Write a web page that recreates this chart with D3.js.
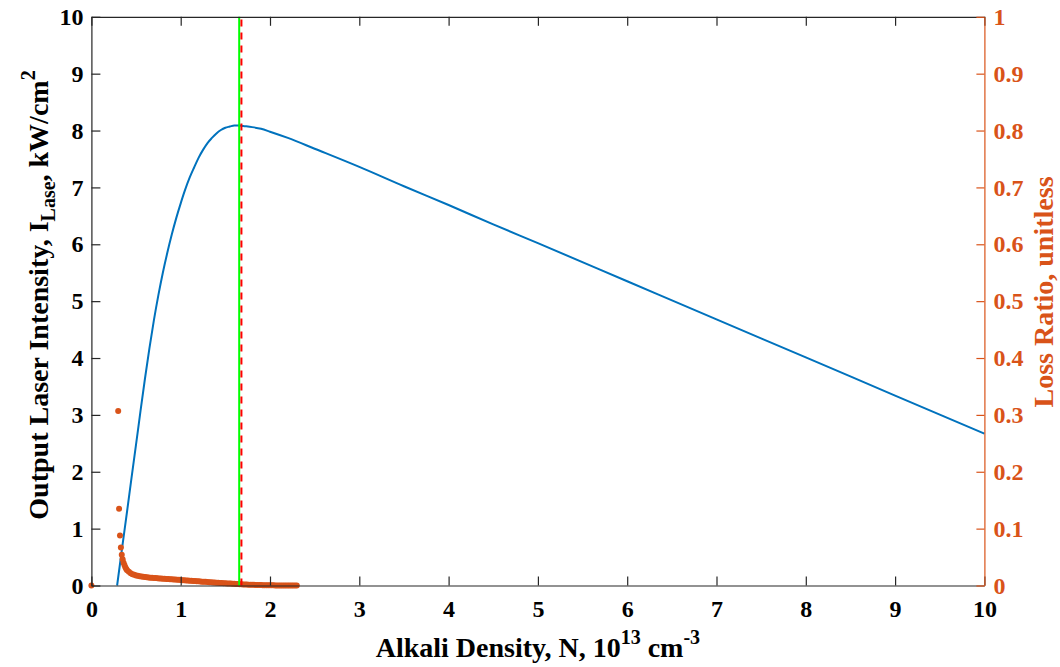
<!DOCTYPE html>
<html><head><meta charset="utf-8">
<script src="https://cdn.jsdelivr.net/npm/d3@7"></script>
<style>body{margin:0;background:#fff}svg{display:block}</style>
</head><body><svg id="c" width="1060" height="667"></svg>
<script>
// ---- data ----
const intensityX = [0.288,0.35,0.40,0.45,0.50,0.55,0.60,0.65,0.70,0.75,0.80,0.85,0.90,0.95,1.00,1.05,1.10,1.15,1.20,1.25,1.30,1.35,1.40,1.45,1.50,1.55,1.60,1.65,1.70,1.80,1.90,2.00,2.20,2.50,3.00,3.50,4.00,4.50,5.00,6.00,7.00,8.00,9.00,10.00];
const intensityY = [0,0.73,1.31,1.90,2.48,3.07,3.64,4.175,4.665,5.105,5.50,5.85,6.17,6.46,6.72,6.96,7.17,7.35,7.52,7.66,7.78,7.87,7.95,8.01,8.05,8.07,8.09,8.09,8.08,8.06,8.03,7.98,7.87,7.68,7.36,7.02,6.69,6.35,6.02,5.35,4.68,4.01,3.34,2.67];
const lossX = [0,0.30,0.31,0.32,0.33,0.34,0.35,0.36,0.37,0.38,0.39,
  0.40,0.42,0.44,0.46,0.48,0.50,0.52,0.54,0.56,0.58,0.60,0.62,0.64,0.66,0.68,0.70,0.72,0.74,0.76,0.78,0.80,0.82,0.84,0.86,0.88,0.90,0.92,0.94,0.96,0.98,
  1.00,1.02,1.04,1.06,1.08,1.10,1.12,1.14,1.16,1.18,1.20,1.22,1.24,1.26,1.28,1.30,1.32,1.34,1.36,1.38,1.40,1.42,1.44,1.46,1.48,1.50,1.52,1.54,1.56,1.58,
  1.60,1.62,1.64,1.66,1.68,1.70,1.72,1.74,1.76,1.78,1.80,1.82,1.84,1.86,1.88,1.90,1.92,1.94,1.96,1.98,
  2.00,2.02,2.04,2.06,2.08,2.10,2.12,2.14,2.16,2.18,2.20,2.22,2.24,2.26,2.28,2.30];
const lossY = [0,0.307,0.135,0.088,0.067,0.054,0.046,0.040,0.036,0.032,0.029,
  0.027,0.024,0.0215,0.0200,0.0188,0.0178,0.0170,0.0163,0.0157,0.0152,0.0148,0.0144,0.0141,0.0138,0.0135,0.0132,0.0130,0.0127,0.0125,0.0123,0.0120,0.0118,0.0116,0.0113,0.0111,0.0109,0.0106,0.0104,0.0102,0.0099,
  0.0097,0.0094,0.0092,0.0090,0.0087,0.0085,0.0083,0.0080,0.0078,0.0075,0.0073,0.0071,0.0068,0.0066,0.0064,0.0061,0.0059,0.0057,0.0054,0.0052,0.0050,0.0047,0.0045,0.0043,0.0041,0.0039,0.0037,0.0035,0.0033,0.0031,
  0.0029,0.0027,0.0025,0.0023,0.0021,0.0019,0.0018,0.0016,0.0015,0.0013,0.0012,0.0011,0.0010,0.0009,0.0008,0.0007,0.0006,0.0005,0.0004,0.0004,
  0.0003,0.0003,0.0003,0.0002,0.0002,0.0002,0.0002,0.0002,0.0001,0.0001,0.0001,0.0001,0.0001,0.0001,0.0001,0.0001];
const optimumSolid = 1.655;
const optimumDashed = 1.68;
const xTicks = [0,1,2,3,4,5,6,7,8,9,10];
const yLeftTicks = [0,1,2,3,4,5,6,7,8,9,10];
const yRightTicks = [0,0.1,0.2,0.3,0.4,0.5,0.6,0.7,0.8,0.9,1];
const yRightLabels = ["0","0.1","0.2","0.3","0.4","0.5","0.6","0.7","0.8","0.9","1"];

// ---- chart ----
const svg = d3.select("#c");
const L = 91.4, R = 984.4, T = 16.8, B = 585.5;
const blue = "#0072BD", orange = "#D95319", axisC = "#262626";
const font = "'Liberation Serif','Times New Roman',serif";
const x = d3.scaleLinear().domain([0,10]).range([L,R]);
const yL = d3.scaleLinear().domain([0,10]).range([B,T]);
const yR = d3.scaleLinear().domain([0,1]).range([B,T]);

// data
const line = d3.line().curve(d3.curveMonotoneX).x((d,i)=>x(intensityX[i])).y((d,i)=>yL(intensityY[i]));
svg.append("path").datum(intensityY).attr("d", line)
  .attr("fill","none").attr("stroke",blue).attr("stroke-width",2).attr("stroke-linejoin","round");

svg.append("g").selectAll("circle").data(lossY).join("circle")
  .attr("cx",(d,i)=>x(lossX[i])).attr("cy",d=>yR(d)).attr("r",3).attr("fill",orange);

svg.append("line").attr("x1",x(optimumSolid)).attr("x2",x(optimumSolid)).attr("y1",yL(0)).attr("y2",yL(10))
  .attr("stroke","#00FF00").attr("stroke-width",2);
svg.append("line").attr("x1",x(optimumDashed)).attr("x2",x(optimumDashed)).attr("y1",yL(0)).attr("y2",yL(10))
  .attr("stroke","#FF0000").attr("stroke-width",2).attr("stroke-dasharray","7,6");

// axes
const gx = svg.append("g").attr("transform",`translate(0,${B})`)
  .call(d3.axisBottom(x).tickValues(xTicks).tickSizeInner(-9).tickSizeOuter(0).tickPadding(14));
const gxTop = svg.append("g").attr("transform",`translate(0,${T})`)
  .call(d3.axisTop(x).tickValues(xTicks).tickSizeInner(-9).tickSizeOuter(0).tickFormat(""));
const gl = svg.append("g").attr("transform",`translate(${L},0)`)
  .call(d3.axisLeft(yL).tickValues(yLeftTicks).tickSizeInner(-9).tickSizeOuter(0).tickPadding(8));
const gr = svg.append("g").attr("transform",`translate(${R},0)`)
  .call(d3.axisRight(yR).tickValues(yRightTicks).tickSizeInner(-8).tickSizeOuter(0).tickPadding(9)
  .tickFormat((d,i)=>yRightLabels[i]));
[gx,gxTop,gl].forEach(g=>{
  g.selectAll("path.domain").attr("stroke",axisC).attr("stroke-width",1.2);
  g.selectAll(".tick line").attr("stroke",axisC).attr("stroke-width",1.2);
  g.selectAll("text").attr("fill","#000").style("font-family",font).style("font-weight","bold").style("font-size","24px");
});
gr.selectAll("path.domain").attr("stroke",orange).attr("stroke-width",1.2);
gr.selectAll(".tick line").attr("stroke",orange).attr("stroke-width",1.2);
gr.selectAll("text").attr("fill",orange).style("font-family",font).style("font-weight","bold").style("font-size","24px");
gx.selectAll(".tick text").attr("dy","0.71em");

// axis labels
const xl = svg.append("text").attr("x",(L+R)/2).attr("y",657).attr("text-anchor","middle")
  .style("font-family",font).style("font-weight","bold").style("font-size","28px").attr("fill","#000");
xl.append("tspan").text("Alkali Density, N, 10");
xl.append("tspan").text("13").style("font-size","20px").attr("dy",-13);
xl.append("tspan").text(" cm").attr("dy",13);
xl.append("tspan").text("-3").style("font-size","20px").attr("dy",-13);

const ylab = svg.append("text").attr("transform",`translate(48,295) rotate(-90)`).attr("text-anchor","middle")
  .style("font-family",font).style("font-weight","bold").style("font-size","28px").attr("fill","#000");
ylab.append("tspan").text("Output Laser Intensity, I");
ylab.append("tspan").text("Lase").style("font-size","20px").attr("dy",7);
ylab.append("tspan").text(", kW/cm").attr("dy",-7);
ylab.append("tspan").text("2").style("font-size","20px").attr("dy",-13);

svg.append("text").attr("transform",`translate(1053,292) rotate(-90)`).attr("text-anchor","middle")
  .style("font-family",font).style("font-weight","bold").style("font-size","28px").attr("fill",orange)
  .text("Loss Ratio, unitless");
</script></body></html>
